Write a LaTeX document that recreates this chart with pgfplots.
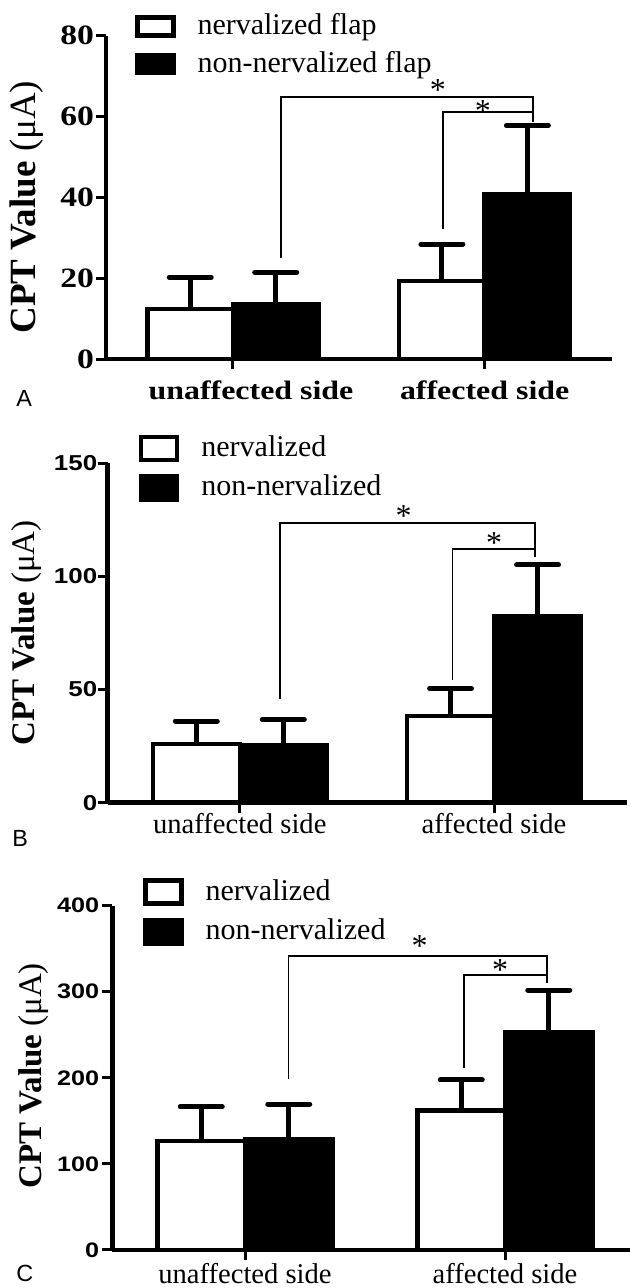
\documentclass[border=0pt]{standalone}
\usepackage{fontspec}
\setmainfont{Liberation Serif}
\newfontfamily\serifwide[FakeStretch=1.2]{Liberation Serif}
\newfontfamily\sanswide[FakeStretch=1.2]{Liberation Sans}
\newfontfamily\sansplain{Liberation Sans}
\usepackage{pgfplots}
\pgfplotsset{compat=1.18}

\pgfplotsset{
  prism/.style={
    scale only axis,
    axis x line=bottom, axis y line=left,
    axis line style={line width=2.2pt, -},
    ybar=0pt, ymin=0, xtick={0,1},
    tick align=outside, major tick length=5pt,
    tick style={line width=1.5pt, black},
    /pgf/number format/assume math mode=true,
    legend style={draw=none, fill=none, inner sep=0pt, column sep=9pt,
      cells={anchor=base west, inner sep=0pt},
      font=\fontsize{15}{15}\selectfont},
    error bars/y dir=plus, error bars/y explicit,
    error bars/error bar style={line width=2.5pt},
    error bars/error mark options={rotate=90, line width=2.5pt, mark size=10.5pt, line cap=round},
    clip=false,
  },
}
\tikzset{
  white bar/.style={fill=white, draw=black, line width=2.2pt},
  black bar/.style={fill=black, draw=black, line width=2.2pt},
  bracket/.style={line width=0.8pt},
  star/.style={anchor=base, inner sep=0pt, font=\fontsize{16}{16}\selectfont},
}

\begin{document}
\begin{tikzpicture}
\useasboundingbox (0,0) rectangle (314.5pt,644pt);

% ---------- A ----------
\begin{axis}[prism,
  at={(53pt,464.35pt)}, anchor=south west,
  width=253pt, height=161.8pt,
  xmin=-0.5046, xmax=1.506, ymax=80, ytick={0,20,40,60,80},
  bar width=42.75pt,
  xticklabels={\hspace{18pt}unaffected side, affected side},
  xticklabel style={font=\fontsize{13.3}{14}\serifwide\bfseries, inner sep=0pt, yshift=-5.35pt},
  yticklabel style={font=\fontsize{14}{14}\serifwide\bfseries, inner sep=0pt, xshift=-0.8pt},
  ylabel={\textbf{CPT Value} (μA)},
  ylabel style={at={(axis description cs:-0.156,0.47)}, anchor=center,
    font=\fontsize{18.5}{19}\selectfont},
  legend style={at={(axis cs:-0.3905,86.6)}, anchor=north west, row sep=2.8pt},
]
\addplot[white bar,
  legend image code/.code={\draw[fill=white, line width=2.2pt] (0pt,-0.5pt) rectangle (18pt,8.5pt);}]
  coordinates {(0,12.4) +- (0,7.9) (1,19.3) +- (0,9.2)};
\addlegendentry{nervalized flap}
\addplot[black bar,
  legend image code/.code={\draw[fill=black, line width=2.2pt] (0pt,-0.5pt) rectangle (18pt,8.5pt);}]
  coordinates {(0,13.6) +- (0,7.9) (1,40.8) +- (0,17.0)};
\addlegendentry{non-nervalized flap}
\draw[bracket] (0.19,25.0) -- (0.19,64.8) -- (1.192,64.8) -- (1.192,58.7);
\draw[bracket] (0.834,32.1) -- (0.834,61.1) -- (1.192,61.1);
\node[star] at (0.814,63.9) {*};
\node[star] at (0.993,58.7) {*};
\end{axis}

% ---------- B ----------
\begin{axis}[prism,
  at={(53.8pt,242.65pt)}, anchor=south west,
  width=259.45pt, height=169.7pt,
  xmin=-0.52, xmax=1.521, ymax=150, ytick={0,50,100,150},
  bar width=43.5pt,
  xticklabels={unaffected side, affected side},
  xticklabel style={font=\fontsize{14.3}{15}\selectfont, inner sep=0pt, yshift=-0.3pt},
  yticklabel style={font=\fontsize{10.8}{11}\sanswide\bfseries, inner sep=0pt},
  ylabel={\textbf{CPT Value} (μA)},
  ylabel style={at={(axis description cs:-0.157,0.5)}, anchor=center,
    font=\fontsize{16.5}{17}\selectfont},
  legend style={at={(axis cs:-0.398,164.1)}, anchor=north west, row sep=3.7pt},
]
\addplot[white bar,
  legend image code/.code={\draw[fill=white, line width=2.2pt] (0pt,-1.75pt) rectangle (18pt,9.75pt);}]
  coordinates {(0,25.9) +- (0,10.2) (1,38.3) +- (0,12.1)};
\addlegendentry{nervalized}
\addplot[black bar,
  legend image code/.code={\draw[fill=black, line width=2.2pt] (0pt,-1.75pt) rectangle (18pt,9.75pt);}]
  coordinates {(0,25.5) +- (0,11.3) (1,82.2) +- (0,22.9)};
\addlegendentry{non-nervalized}
\draw[bracket] (0.158,45.7) -- (0.158,123.5) -- (1.162,123.5) -- (1.162,108.7);
\draw[bracket] (0.837,54.2) -- (0.837,112.1) -- (1.162,112.1);
\node[star] at (0.644,122.2) {*};
\node[star] at (1.0,110.0) {*};
\end{axis}

% ---------- C ----------
\begin{axis}[prism,
  at={(56.2pt,19pt)}, anchor=south west,
  width=261.3pt, height=172.15pt,
  xmin=-0.51, xmax=1.5, ymax=400, ytick={0,100,200,300,400},
  bar width=43.75pt,
  xticklabels={unaffected side, affected side},
  xticklabel style={font=\fontsize{14.3}{15}\selectfont, inner sep=0pt, yshift=-1.5pt},
  yticklabel style={font=\fontsize{10.5}{11}\sanswide\bfseries, inner sep=0pt, xshift=-1.4pt},
  ylabel={\textbf{CPT Value} (μA)},
  ylabel style={at={(axis description cs:-0.150,0.506)}, anchor=center,
    font=\fontsize{16.5}{17}\selectfont},
  legend style={at={(axis cs:-0.393,435.7)}, anchor=north west, row sep=4pt},
]
\addplot[white bar,
  legend image code/.code={\draw[fill=white, line width=2.2pt] (0pt,-1.75pt) rectangle (18pt,9.75pt);}]
  coordinates {(0,126.6) +- (0,39.9) (1,161.9) +- (0,35.6)};
\addlegendentry{nervalized}
\addplot[black bar,
  legend image code/.code={\draw[fill=black, line width=2.2pt] (0pt,-1.75pt) rectangle (18pt,9.75pt);}]
  coordinates {(0,128.9) +- (0,40.7) (1,252.5) +- (0,49.5)};
\addlegendentry{non-nervalized}
\draw[bracket] (0.167,198.3) -- (0.167,341.5) -- (1.162,341.5) -- (1.162,310.5);
\draw[bracket] (0.842,211) -- (0.842,319.5) -- (1.162,319.5);
\node[star] at (0.672,341.2) {*};
\node[star] at (0.981,312.8) {*};
\end{axis}

% panel letters
\node[anchor=base west, inner sep=0pt, font=\fontsize{11.7}{12}\sansplain] at (8pt,440.65pt) {A};
\node[anchor=base west, inner sep=0pt, font=\fontsize{11.7}{12}\sansplain] at (6pt,220.65pt) {B};
\node[anchor=base west, inner sep=0pt, font=\fontsize{11.7}{12}\sansplain] at (8pt,3.2pt) {C};
\end{tikzpicture}
\end{document}
